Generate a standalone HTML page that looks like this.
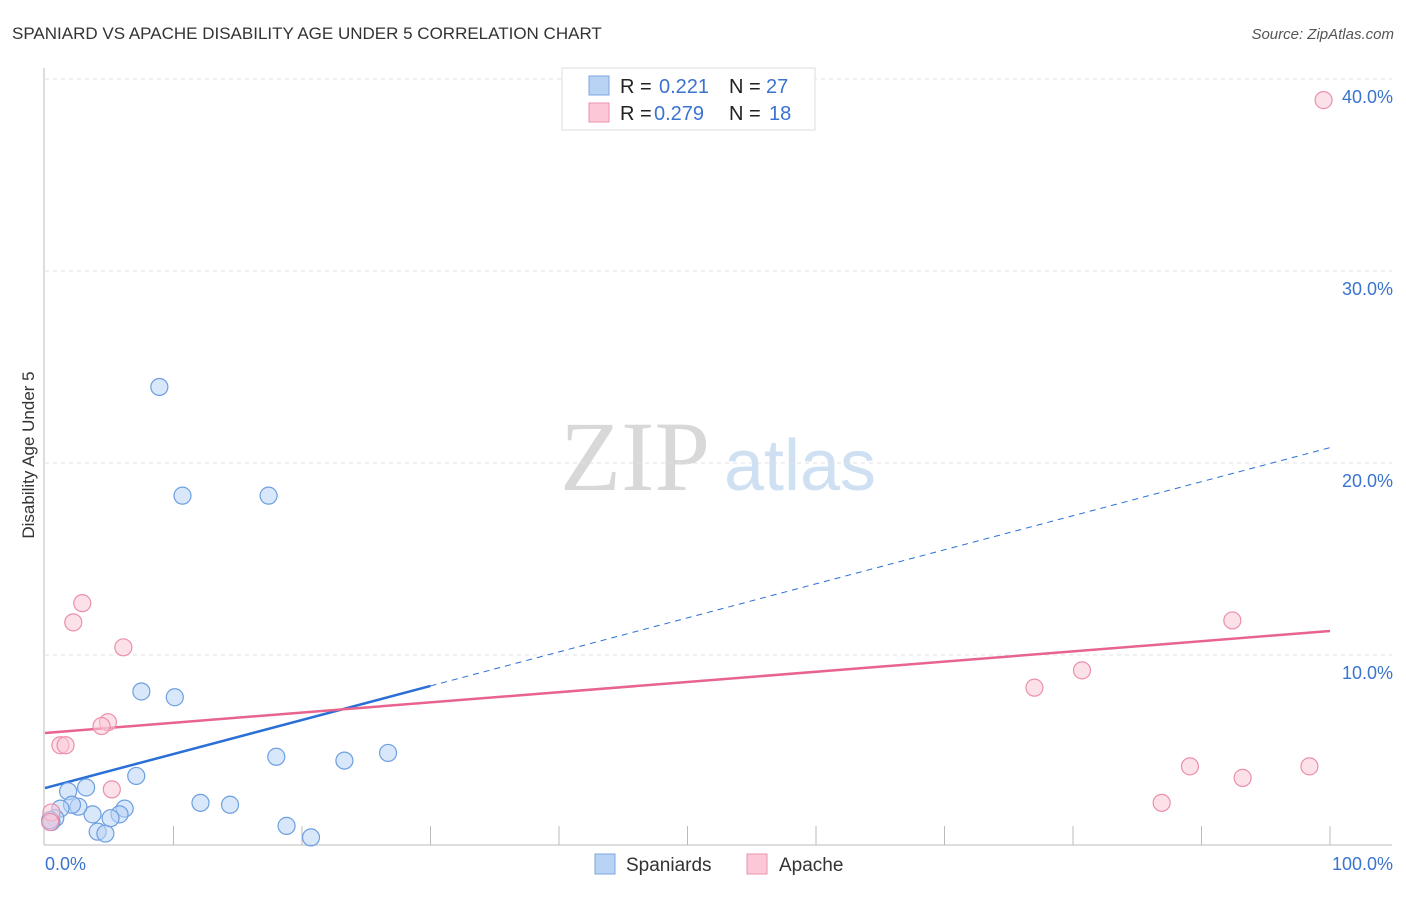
<!DOCTYPE html>
<html><head><meta charset="utf-8"><style>
body{margin:0;background:#fff;font-family:"Liberation Sans",sans-serif;}
</style></head><body>
<svg id="chart" width="1406" height="892" xmlns="http://www.w3.org/2000/svg" font-family="Liberation Sans, sans-serif">
<text x="12" y="39" font-size="17" fill="#333">SPANIARD VS APACHE DISABILITY AGE UNDER 5 CORRELATION CHART</text>
<text x="1394" y="39" font-size="15" fill="#555" font-style="italic" text-anchor="end">Source: ZipAtlas.com</text>
<text x="34" y="455" font-size="17" fill="#333" text-anchor="middle" transform="rotate(-90 34 455)">Disability Age Under 5</text>
<g><text x="635" y="490" font-size="100" style="font-family:'Liberation Serif',serif" fill="#d8d8d8" text-anchor="middle">ZIP</text><text x="800" y="490" font-size="72" fill="#cfe0f3" text-anchor="middle">atlas</text></g>
<g id="grid"></g><g id="axes"></g><g id="trends"></g><g id="points"></g>
<g font-size="20">
<rect x="562" y="68" width="253" height="62" fill="#fff" stroke="#ddd"/>
<rect x="589" y="76" width="20" height="19" fill="#b9d3f5" stroke="#7aa7e3"/>
<rect x="589" y="103" width="20" height="19" fill="#fcc8d7" stroke="#ee92ad"/>
<text x="620" y="93" fill="#222">R =</text><text x="659" y="93" fill="#3a73d0">0.221</text>
<text x="729" y="93" fill="#222">N =</text><text x="766" y="93" fill="#3a73d0">27</text>
<text x="620" y="120" fill="#222">R =</text><text x="654" y="120" fill="#3a73d0">0.279</text>
<text x="729" y="120" fill="#222">N =</text><text x="769" y="120" fill="#3a73d0">18</text>
</g>
<g>
<rect x="595" y="854" width="20" height="20" fill="#b9d3f5" stroke="#7aa7e3"/>
<text x="626" y="871" font-size="19" fill="#333">Spaniards</text>
<rect x="747" y="854" width="20" height="20" fill="#fcc8d7" stroke="#ee92ad"/>
<text x="779" y="871" font-size="19" fill="#333">Apache</text>
</g>
</svg>
<script>
const blueX=[8.9,10.7,17.4,7.5,10.1,18.0,23.3,26.7,7.1,3.2,1.8,12.1,14.4,18.8,20.7,4.1,4.7,6.2,5.8,5.1,3.7,2.6,2.1,1.2,0.8,0.5,0.4];
const blueY=[23.96,18.3,18.3,8.1,7.8,4.7,4.5,4.9,3.7,3.1,2.9,2.3,2.2,1.1,0.5,0.8,0.7,2.0,1.7,1.5,1.7,2.1,2.2,2.0,1.5,1.3,1.4];
const pinkX=[99.5,2.9,2.2,6.1,92.4,80.7,77.0,4.9,4.4,1.2,1.6,5.2,89.1,98.4,93.2,86.9,0.5,0.4];
const pinkY=[38.9,12.7,11.7,10.4,11.8,9.2,8.3,6.5,6.3,5.3,5.3,3.0,4.2,4.2,3.6,2.3,1.8,1.3];
const blueTrend=[3.07,20.8];
const pinkTrend=[5.94,11.25];
const yTicks=[10,20,30,40];
const yTickLabels=["10.0%","20.0%","30.0%","40.0%"];
const xTickLabels=["0.0%","100.0%"];
const NS="http://www.w3.org/2000/svg";
const X=v=>45+v*12.85, Y=v=>847-v*19.2;
function mk(p,t,a){const e=document.createElementNS(NS,t);for(const k in a)e.setAttribute(k,a[k]);document.getElementById(p).appendChild(e);return e;}
yTicks.forEach((t,i)=>{
 const g=mk('grid','line',{x1:45,x2:1392,y1:Y(t),y2:Y(t),stroke:'#e2e2e2','stroke-dasharray':'4,4'});
 
 
 const l=mk('grid','text',{x:1393,y:Y(t)+24,'font-size':18,fill:'#3a73d0','text-anchor':'end'});l.textContent=yTickLabels[i];
 
 
});
mk('axes','line',{x1:44,x2:44,y1:68,y2:845,stroke:'#bbb'});
mk('axes','line',{x1:44,x2:1392,y1:845,y2:845,stroke:'#bbb'});
for(let i=1;i<=10;i++){const t=mk('axes','line',{x1:45+i*128.5,x2:45+i*128.5,y1:826,y2:845,stroke:'#bbb'});
 
 }
[[0,'start',45],[100,'end',1393]].forEach((a,i)=>{const l=mk('axes','text',{x:a[2],y:870,'font-size':18,fill:'#3a73d0','text-anchor':a[1]});l.textContent=xTickLabels[i];
 
 });
function pt(xs,ys,f,s,n){xs.forEach((x,i)=>{const c=mk('points','circle',{cx:X(x),cy:Y(ys[i]),r:8.5,fill:f,'fill-opacity':0.55,stroke:s,'stroke-width':1.2});
 
 });}
pt(blueX,blueY,'#b9d3f5','#6d9fe0','spaniards-point');
pt(pinkX,pinkY,'#fcc8d7','#ec8fab','apache-point');
const by=x=>blueTrend[0]+(blueTrend[1]-blueTrend[0])*x/100;
const py=x=>pinkTrend[0]+(pinkTrend[1]-pinkTrend[0])*x/100;
let a=mk('trends','line',{x1:X(0),y1:Y(by(0)),x2:X(30),y2:Y(by(30)),stroke:'#2a6fd6','stroke-width':2.5});


a=mk('trends','line',{x1:X(30),y1:Y(by(30)),x2:X(100),y2:Y(by(100)),stroke:'#2a6fd6','stroke-width':1,'stroke-dasharray':'6,5'});


a=mk('trends','line',{x1:X(0),y1:Y(py(0)),x2:X(100),y2:Y(py(100)),stroke:'#e8648e','stroke-width':2.5});


</script>
</body></html>
